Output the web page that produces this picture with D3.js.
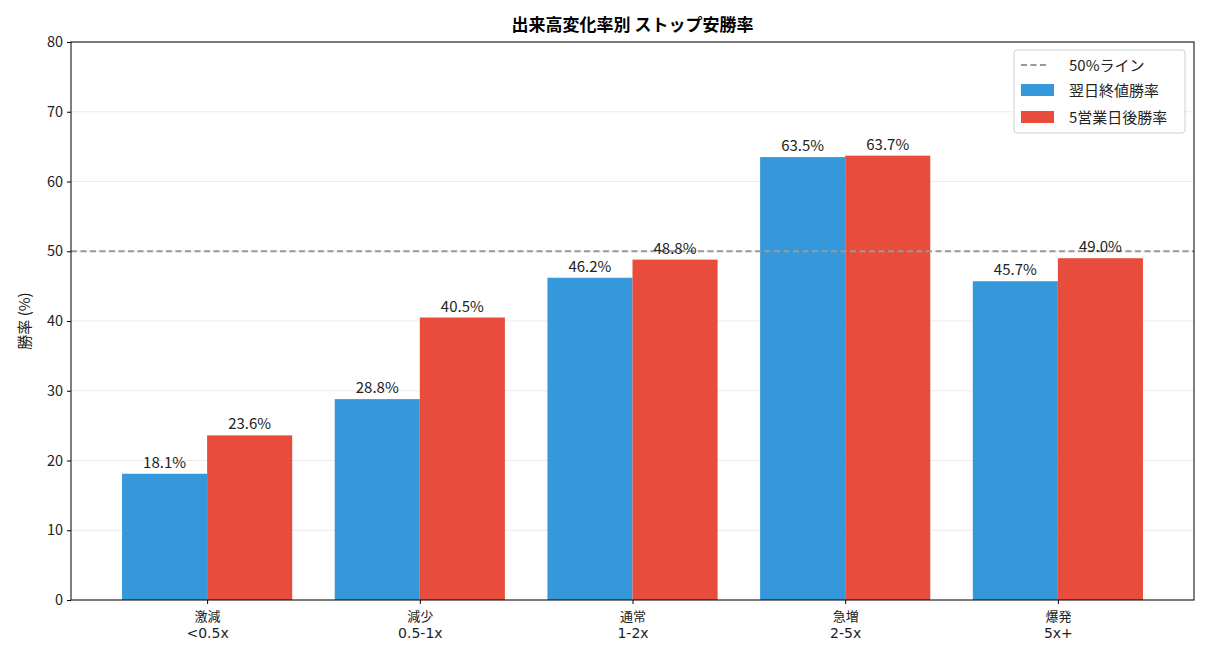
<!DOCTYPE html>
<html><head><meta charset="utf-8">
<script src="https://cdn.jsdelivr.net/npm/d3@7"></script>
<style>
body{margin:0;background:#fff;}
svg text{font-family:"Noto Sans CJK JP","DejaVu Sans",sans-serif;}
svg text.ascii{font-family:"DejaVu Sans",sans-serif;}
</style></head>
<body><svg id="c" width="1210" height="660"></svg>
<script>
const categories = ["激減\n<0.5x","減少\n0.5-1x","通常\n1-2x","急増\n2-5x","爆発\n5x+"];
const nextDayWin = [18.1, 28.8, 46.2, 63.5, 45.7];
const fiveDayWin = [23.6, 40.5, 48.8, 63.7, 49.0];
const yTicks = [0,10,20,30,40,50,60,70,80];
const refLine = 50;
const seriesNames = ["翌日終値勝率","5営業日後勝率"];
const colors = ["#3498db","#e74c3c"];

const svg = d3.select("#c");
const L=71, T=42, R=1194, B=600;
const bw = 0.4;
const x = d3.scaleLinear().domain([-0.64, categories.length-1+0.64]).range([L,R]);
const y = d3.scaleLinear().domain([0,80]).range([B,T]);

// grid
svg.append("g").selectAll("line").data(yTicks).join("line")
  .attr("x1",L).attr("x2",R).attr("y1",d=>y(d)).attr("y2",d=>y(d))
  .attr("stroke","#e6e6e6").attr("stroke-width",0.8);

const series=[nextDayWin, fiveDayWin];
series.forEach((vals,si)=>{
  svg.append("g").selectAll("rect").data(vals).join("rect")
    .attr("x",(d,i)=>x(i+(si===0?-bw:0)))
    .attr("width",(d,i)=>x(i+bw)-x(i))
    .attr("y",d=>y(d)).attr("height",d=>y(0)-y(d))
    .attr("fill",colors[si]);
});

// ref line
svg.append("line").attr("x1",L).attr("x2",R).attr("y1",y(refLine)).attr("y2",y(refLine))
  .attr("stroke","#999").attr("stroke-width",1.8).attr("stroke-dasharray","6,3.5");

series.forEach((vals,si)=>{
  svg.append("g").selectAll("text").data(vals).join("text")
    .attr("x",(d,i)=>x(i+(si===0?-bw/2:bw/2)))
    .attr("y",d=>y(d)-6)
    .attr("text-anchor","middle").attr("font-size",15).attr("fill","#222")
    .text(d=>d.toFixed(1)+"%");
});

// axes
const ya=svg.append("g").attr("transform",`translate(${L},0)`)
  .call(d3.axisLeft(y).tickValues(yTicks).tickSize(4).tickPadding(4));
ya.selectAll("text").attr("font-size",14.5).attr("fill","#222");
const xa=svg.append("g").attr("transform",`translate(0,${B})`)
  .call(d3.axisBottom(x).tickValues(d3.range(categories.length)).tickSize(4).tickFormat(""));
xa.selectAll(".tick").each(function(d){
  const g=d3.select(this);
  categories[d].split("\n").forEach((s,k)=>{
    g.append("text").attr("class",k===0?"":"ascii").attr("fill","#222").attr("text-anchor","middle")
      .attr("x",0).attr("y",k===0?21:38).attr("font-size",k===0?13:14).text(s);
  });
});
svg.selectAll(".domain").remove();
svg.append("rect").attr("x",L).attr("y",T).attr("width",R-L).attr("height",B-T)
  .attr("fill","none").attr("stroke","#000").attr("stroke-width",1);

// title and y label
svg.append("text").attr("x",(L+R)/2).attr("y",31).attr("text-anchor","middle")
  .attr("font-size",17).attr("font-weight","bold").text("出来高変化率別 ストップ安勝率");
svg.append("text").attr("transform",`translate(30,${(T+B)/2}) rotate(-90)`)
  .attr("text-anchor","middle").attr("font-size",15).attr("fill","#222").text("勝率 (%)");

// legend
const lg=svg.append("g").attr("transform","translate(1014,50)");
lg.append("rect").attr("width",171).attr("height",83).attr("rx",3)
  .attr("fill","#fff").attr("fill-opacity",0.85).attr("stroke","#d0d0d0");
lg.append("line").attr("x1",7).attr("x2",35).attr("y1",15).attr("y2",15)
  .attr("stroke","#999").attr("stroke-width",1.8).attr("stroke-dasharray","6,3.5");
lg.append("text").attr("x",55).attr("y",21).attr("font-size",15).attr("fill","#222").text("50%ライン");
seriesNames.forEach((n,i)=>{
  lg.append("rect").attr("x",7).attr("y",34+i*27).attr("width",33).attr("height",12).attr("fill",colors[i]);
  lg.append("text").attr("x",55).attr("y",46+i*27).attr("font-size",15).attr("fill","#222").text(n);
});
</script></body></html>
